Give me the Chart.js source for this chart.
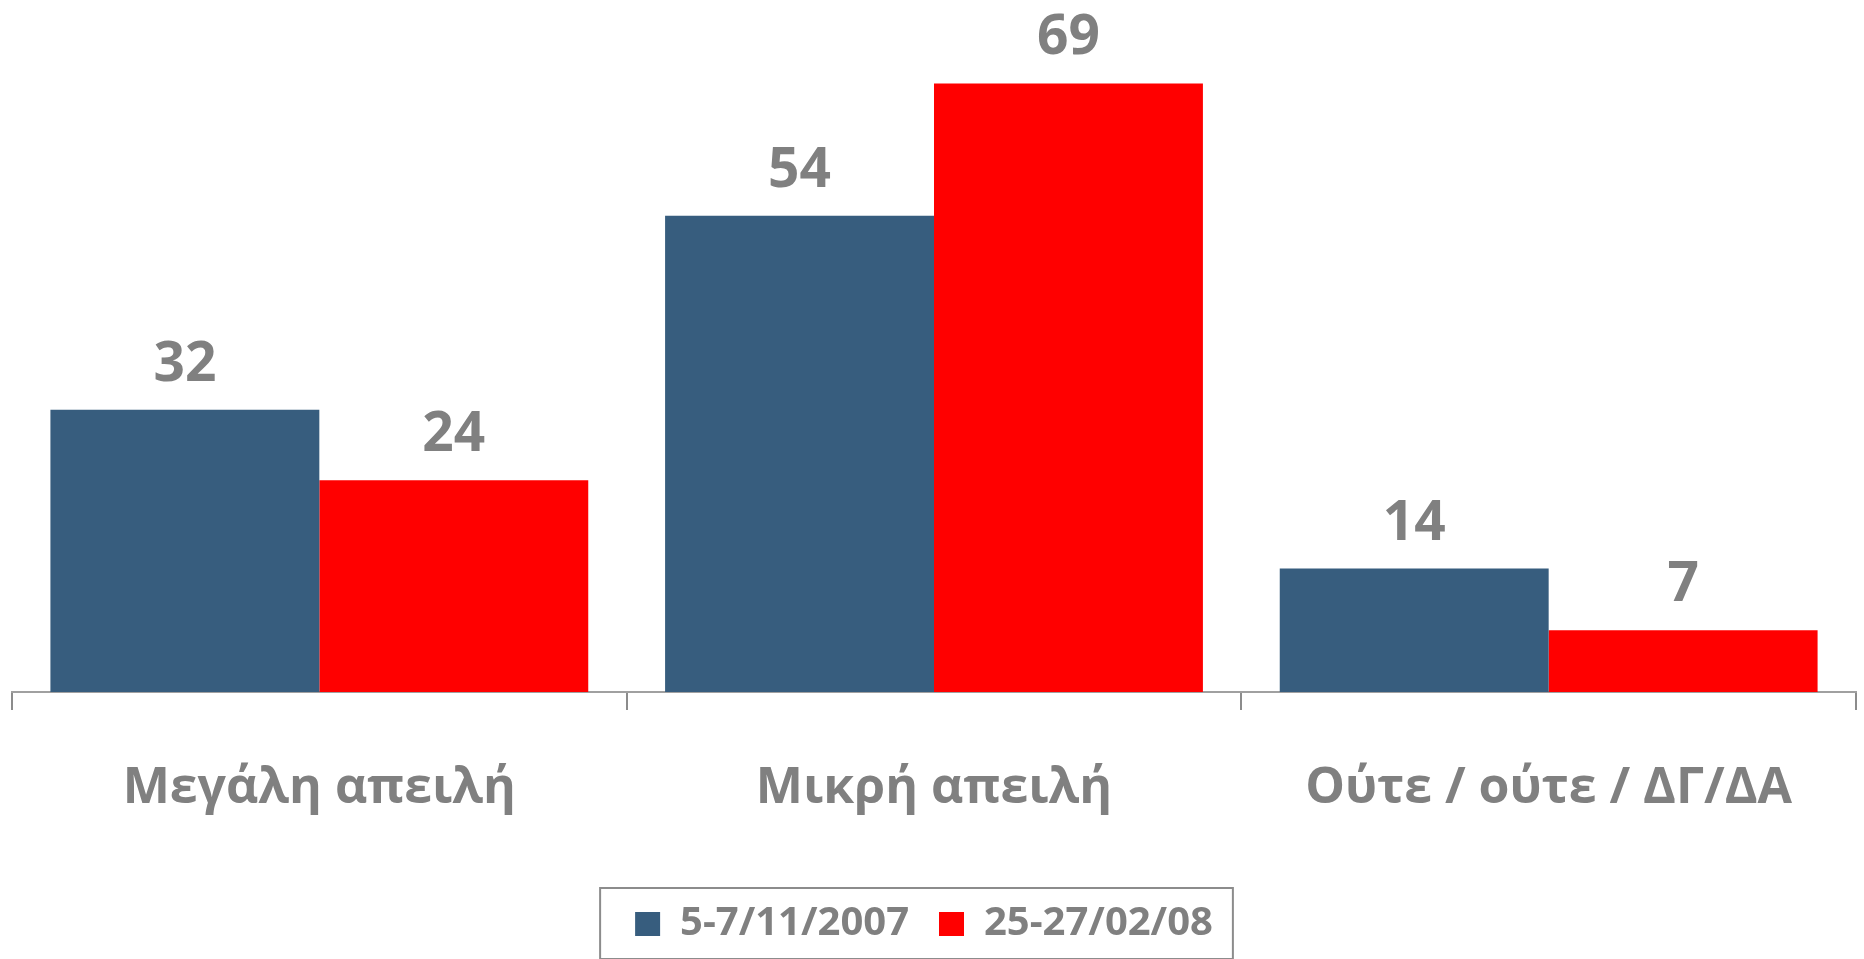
<!DOCTYPE html>
<html>
<head>
<meta charset="utf-8">
<script src="https://cdn.jsdelivr.net/npm/chart.js@4/dist/chart.umd.min.js"></script>
<style>
  html, body { margin: 0; padding: 0; background: #ffffff; }
  #wrap { width: 1864px; height: 959px; position: relative; }
</style>
</head>
<body>
<div id="wrap"><canvas id="c" width="1864" height="959"></canvas></div>
<script>
const categories = ["Μεγάλη απειλή", "Μικρή απειλή", "Ούτε / ούτε / ΔΓ/ΔΑ"];
const seriesNames = ["5-7/11/2007", "25-27/02/08"];
const series2007 = [32, 54, 14];
const series2008 = [24, 69, 7];

const FONT = "'Open Sans', 'Noto Sans', sans-serif";
const GREY = "#808080";

const valueLabels = {
  id: "valueLabels",
  afterDatasetsDraw(chart) {
    const ctx = chart.ctx;
    ctx.save();
    ctx.font = "bold 55px " + FONT;
    ctx.fillStyle = GREY;
    ctx.textAlign = "center";
    ctx.textBaseline = "alphabetic";
    chart.data.datasets.forEach((ds, di) => {
      chart.getDatasetMeta(di).data.forEach((bar, i) => {
        ctx.fillText(String(ds.data[i]), bar.x, bar.y - 29);
      });
    });
    ctx.restore();
  }
};

const legendShift = {
  id: "legendShift",
  afterLayout(chart) {
    const lg = chart.legend;
    if (!lg) return;
    lg.left -= 10;
    lg.right -= 10;
  }
};

const legendBorder = {
  id: "legendBorder",
  afterDraw(chart) {
    const lg = chart.legend;
    if (!lg || !lg.legendHitBoxes || !lg.legendHitBoxes.length) return;
    const hb = lg.legendHitBoxes;
    const first = hb[0], last = hb[hb.length - 1];
    const cy = first.top + first.height / 2;
    const ctx = chart.ctx;
    ctx.save();
    ctx.strokeStyle = "#8c8c8c";
    ctx.lineWidth = 2;
    const left = first.left - 35, right = last.left + last.width + 20;
    ctx.strokeRect(left, cy - 36, right - left, 71);
    ctx.restore();
  }
};

function draw() {
  new Chart(document.getElementById("c"), {
    type: "bar",
    data: {
      labels: categories,
      datasets: [
        { label: seriesNames[0], data: series2007, backgroundColor: "#375D7E", borderWidth: 0 },
        { label: seriesNames[1], data: series2008, backgroundColor: "#FF0000", borderWidth: 0 }
      ]
    },
    options: {
      responsive: false,
      animation: false,
      devicePixelRatio: 1,
      layout: { padding: { top: 4, left: 12, right: 8, bottom: 5 } },
      datasets: { bar: { categoryPercentage: 0.875, barPercentage: 1.0 } },
      scales: {
        x: {
          afterFit: (axis) => { axis.height = 182; },
          grid: {
            offset: true,
            drawOnChartArea: false,
            drawTicks: true,
            tickLength: 18,
            color: "#8c8c8c",
            lineWidth: 2
          },
          border: { display: true, color: "#a0a0a0", width: 2 },
          ticks: {
            color: GREY,
            font: { family: FONT, size: 50, weight: "bold" },
            padding: 49,
            maxRotation: 0,
            autoSkip: false
          }
        },
        y: {
          display: false,
          min: 0,
          max: 78,
          grid: { display: false }
        }
      },
      plugins: {
        legend: {
          display: true,
          position: "bottom",
          labels: {
            color: GREY,
            font: { family: FONT, size: 40, weight: "bold" },
            boxWidth: 25,
            boxHeight: 24,
            padding: 30
          }
        },
        tooltip: { enabled: false },
        title: { display: false }
      }
    },
    plugins: [valueLabels, legendShift, legendBorder]
  });
}

const loads = [
  document.fonts.load("bold 50px 'Open Sans'", "Μεγάλη απειλή"),
  document.fonts.load("bold 40px 'Open Sans'", "25-27/02/08")
];
Promise.all(loads).then(draw, draw);
</script>
</body>
</html>
